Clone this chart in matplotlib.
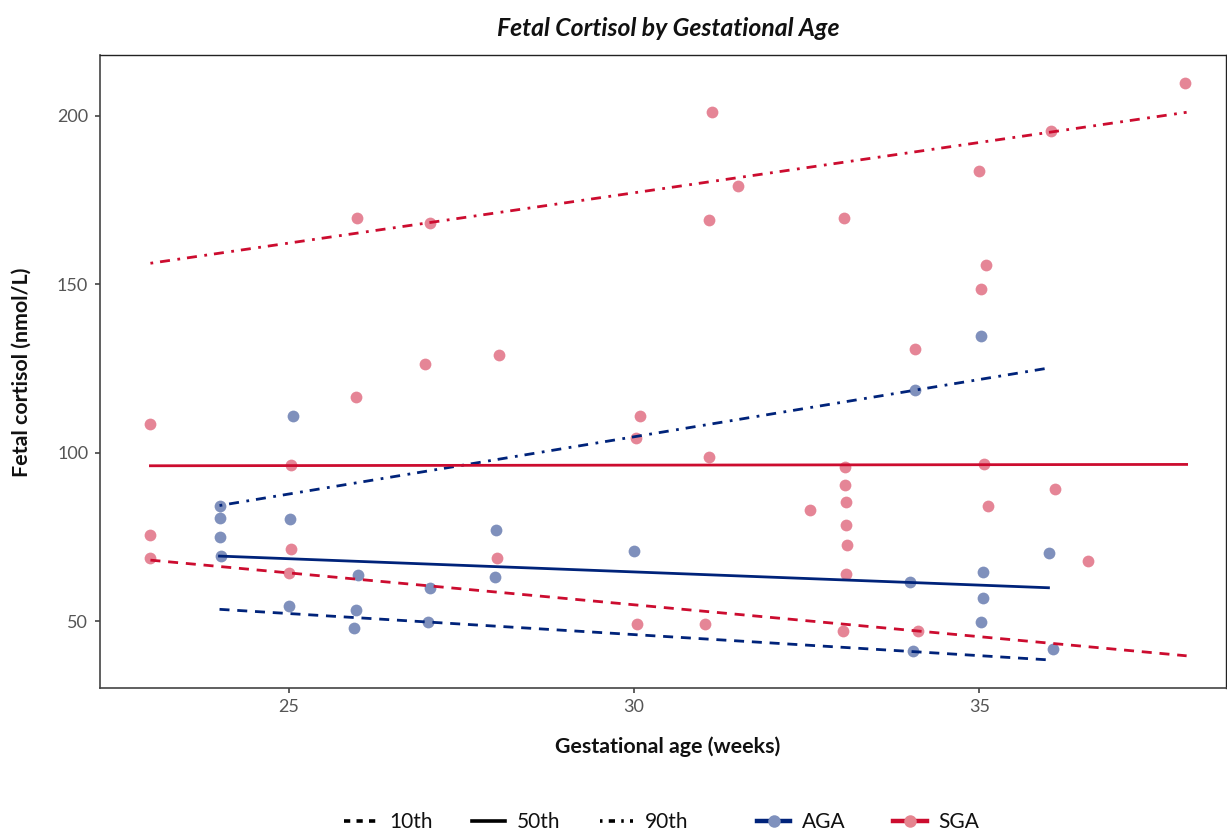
import matplotlib
matplotlib.use("Agg")
import matplotlib.pyplot as plt
from matplotlib.lines import Line2D

# ---------------- data ----------------
aga_ga = [24.0, 24.0, 24.0, 24.02, 25.06, 25.02, 26.01, 25.0, 25.97, 25.94, 27.04, 27.02,
          28.0, 27.99, 30.0, 35.03, 34.07, 36.01, 35.05, 35.05, 35.03, 34.0, 34.04, 36.07]
aga_cort = [84.4, 80.6, 75.1, 69.4, 111.0, 80.3, 63.8, 54.6, 53.5, 48.1, 59.9, 49.9,
            77.1, 63.3, 71.0, 134.6, 118.8, 70.3, 64.7, 57.0, 49.8, 61.6, 41.2, 41.7]

sga_ga = [23.0, 23.0, 23.0, 25.04, 25.04, 25.01, 25.97, 25.99, 27.04, 26.97, 28.04, 28.01,
          30.09, 30.03, 30.05, 31.08, 31.03, 31.13, 31.08, 31.51, 32.55, 33.04,
          33.05, 33.05, 33.07, 33.07, 33.08, 33.07, 33.03, 34.07, 34.11,
          34.99, 35.09, 35.02, 35.07, 35.12, 36.1, 36.57, 36.04, 37.97]
sga_cort = [108.5, 75.6, 68.8, 96.3, 71.5, 64.3, 116.7, 169.7, 168.3, 126.5, 129.2, 68.8,
            111.1, 104.5, 49.2, 98.8, 49.3, 201.1, 169.2, 179.3, 83.2, 169.6,
            95.7, 90.4, 85.5, 78.6, 72.8, 64.2, 47.1, 131.0, 47.3,
            183.6, 155.7, 148.6, 96.6, 84.2, 89.4, 67.8, 195.5, 209.7]

# quantile regression lines (endpoints)
aga_range = [24.0, 36.0]
aga_q10 = [53.6, 38.6]
aga_q50 = [69.4, 60.0]
aga_q90 = [84.4, 125.2]

sga_range = [23.0, 38.0]
sga_q10 = [68.2, 39.8]
sga_q50 = [96.2, 96.6]
sga_q90 = [156.3, 201.1]

x_ticks = [25, 30, 35]
y_ticks = [50, 100, 150, 200]

title = "Fetal Cortisol by Gestational Age"
x_label = "Gestational age (weeks)"
y_label = "Fetal cortisol (nmol/L)"
quantile_labels = ["10th", "50th", "90th"]
group_labels = ["AGA", "SGA"]

# ---------------- style ----------------
NAVY = "#00237A"
RED = "#CC0C2F"
FONT = "Lato"
plt.rcParams["font.family"] = [FONT, "DejaVu Sans"]
plt.rcParams["lines.scale_dashes"] = False

DASH = (0, (7.2, 5.6))
DOTDASH = (0, (2.0, 5.0, 7.2, 5.4))
LW = 2.0

fig = plt.figure(figsize=(12.27, 8.32), dpi=100)
W, H = 1227, 832
ax = fig.add_axes([100 / W, 1 - 687.5 / H, 1126 / W, 632.5 / H])

ax.scatter(aga_ga, aga_cort, s=72, color=NAVY, alpha=0.5, linewidths=0, zorder=2)
ax.scatter(sga_ga, sga_cort, s=72, color=RED, alpha=0.5, linewidths=0, zorder=2)

for rng, q10, q50, q90, col in [(aga_range, aga_q10, aga_q50, aga_q90, NAVY),
                                (sga_range, sga_q10, sga_q50, sga_q90, RED)]:
    ax.plot(rng, q10, color=col, lw=LW, linestyle=DASH, zorder=3)
    ax.plot(rng, q50, color=col, lw=LW, linestyle="-", zorder=3)
    ax.plot(rng, q90, color=col, lw=LW, linestyle=DOTDASH, zorder=3)

ax.set_xlim(22.27, 38.57)
ax.set_ylim(30.4, 218.1)
ax.set_xticks(x_ticks)
ax.set_yticks(y_ticks)
ax.tick_params(axis="both", length=3.5, width=1.2, color="#444444",
               labelcolor="#555555", labelsize=13, pad=5)

for side in ["left", "bottom"]:
    ax.spines[side].set_color("#444444")
    ax.spines[side].set_linewidth(1.2)
for side in ["top", "right"]:
    ax.spines[side].set_color("#222222")
    ax.spines[side].set_linewidth(1.0)

fig.text(668 / W, 1 - 28 / H, title, ha="center", va="center",
         fontsize=17.8, fontweight="bold", fontstyle="italic", color="#111111")
fig.text(668 / W, 1 - 747 / H, x_label, ha="center", va="center",
         fontsize=15.4, fontweight="bold", color="#111111")
fig.text(22 / W, 1 - 372 / H, y_label, ha="center", va="center", rotation=90,
         fontsize=15.4, fontweight="bold", color="#111111")

lt_handles = [
    Line2D([], [], color="black", lw=LW + 0.6, linestyle=(0, (4.5, 4.5))),
    Line2D([], [], color="black", lw=LW + 0.6, linestyle="-"),
    Line2D([], [], color="black", lw=LW + 0.6, linestyle=(0, (1.8, 4.5, 4.5, 4.5))),
]
col_handles = [
    Line2D([], [], color=NAVY, lw=LW + 1.2, marker="o", markersize=9,
           markerfacecolor="#7F91BD", markeredgewidth=0),
    Line2D([], [], color=RED, lw=LW + 1.2, marker="o", markersize=9,
           markerfacecolor="#E5848F", markeredgewidth=0),
]
common = dict(loc="center", frameon=False, fontsize=15,
              borderpad=0, borderaxespad=0)
leg1 = fig.legend(lt_handles, quantile_labels, ncol=3,
                  bbox_to_anchor=(516 / W, 1 - 822 / H), handletextpad=0.55,
                  handlelength=1.6, columnspacing=1.9, **common)
leg2 = fig.legend(col_handles, group_labels, ncol=2,
                  bbox_to_anchor=(868 / W, 1 - 822 / H), handletextpad=0.55,
                  handlelength=1.6, columnspacing=2.3, **common)
for leg in (leg1, leg2):
    for t in leg.get_texts():
        t.set_color("#111111")

fig.savefig("out.png", dpi=100)
